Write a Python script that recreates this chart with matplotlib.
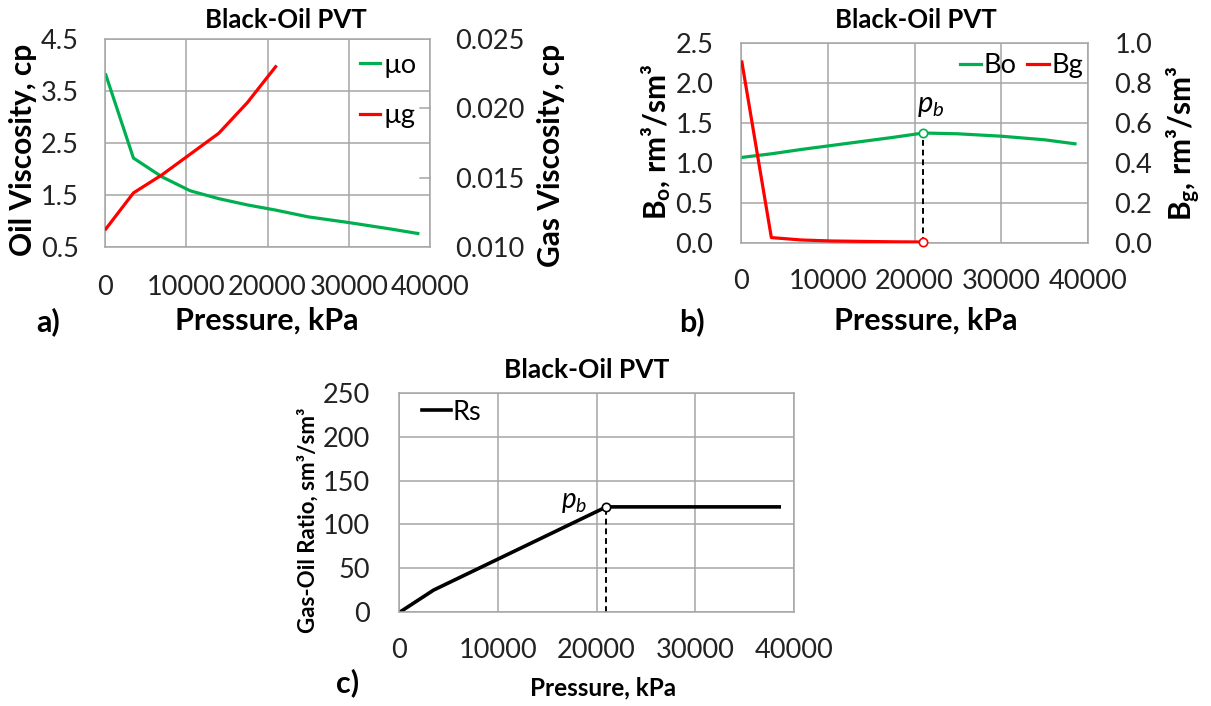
import matplotlib
matplotlib.use("Agg")
import matplotlib.pyplot as plt

plt.rcParams['font.family'] = ['Lato', 'DejaVu Sans']
plt.rcParams['mathtext.fontset'] = 'custom'
plt.rcParams['mathtext.rm'] = 'Lato'
plt.rcParams['mathtext.it'] = 'Lato:italic'
plt.rcParams['mathtext.bf'] = 'Lato:bold'

# data
pressure = [101, 3500, 7000, 10500, 14000, 17500, 21000, 25000, 30000, 35000, 38500]
p_sat = pressure[:7]            # up to bubble point
p_b = 21000

mu_o = [3.81, 2.21, 1.85, 1.58, 1.43, 1.31, 1.21, 1.08, 0.97, 0.85, 0.76]
mu_g = [0.0113, 0.0139, 0.0152, 0.0167, 0.0182, 0.0204, 0.0230]
bo = [1.07, 1.115, 1.17, 1.22, 1.27, 1.32, 1.375, 1.365, 1.335, 1.29, 1.24]
bg = [0.905, 0.027, 0.015, 0.010, 0.008, 0.006, 0.005]
rs = [0, 25, 44, 63, 82, 101, 120, 120, 120, 120, 120]

x_ticks = [0, 10000, 20000, 30000, 40000]

GREEN = '#00B050'
RED = '#FF0000'
GRID = '#A6A6A6'
TS = 19.5   # tick / legend font size

W, H = 1211, 706
fig = plt.figure(figsize=(W / 100, H / 100), dpi=100)


def box(left, top, right, bottom):
    return [left / W, 1 - bottom / H, (right - left) / W, (bottom - top) / H]


def ftext(x, y, s, **kw):
    fig.text(x / W, 1 - y / H, s, ha='center', va='center', **kw)


def style(ax, xpad=20, ypad=20):
    ax.grid(True, color=GRID, linewidth=1.1)
    ax.set_axisbelow(True)
    for sp in ax.spines.values():
        sp.set_color(GRID)
        sp.set_linewidth(1.1)
    ax.tick_params(axis='x', length=0, labelsize=TS, pad=xpad, colors='#222222')
    ax.tick_params(axis='y', length=0, labelsize=TS, pad=ypad, colors='#222222')
    ax.set_xlim(0, 40000)
    ax.set_xticks(x_ticks)


def style_right(tw, pad=19):
    for sp in tw.spines.values():
        sp.set_visible(False)
    tw.tick_params(axis='y', length=0, labelsize=TS, pad=pad, colors='#222222')


# ---- a) viscosities
ax1 = fig.add_axes(box(105, 39, 430, 247))
style(ax1, xpad=20, ypad=19)
ax1.set_ylim(0.5, 4.5)
ax1.set_yticks([0.5, 1.5, 2.5, 3.5, 4.5])
ax1.yaxis.set_major_formatter(matplotlib.ticker.FormatStrFormatter('%.1f'))
l1, = ax1.plot(pressure, mu_o, color=GREEN, lw=2.3)
tw1 = ax1.twinx()
l2, = tw1.plot(p_sat, mu_g, color=RED, lw=2.3)
tw1.set_ylim(0.010, 0.025)
tw1.set_yticks([0.010, 0.015, 0.020, 0.025])
tw1.yaxis.set_major_formatter(matplotlib.ticker.FormatStrFormatter('%.3f'))
style_right(tw1, pad=18)
for yv in [0.015, 0.020]:
    tw1.plot([38800, 40000], [yv, yv], color=GRID, lw=1.1, clip_on=False)
ax1.legend([l1, l2], ['µo', 'µg'], loc='upper left', bbox_to_anchor=(0.785, 0.935),
           frameon=False, fontsize=TS, borderpad=0, borderaxespad=0,
           handlelength=0.75, handletextpad=0.12, labelspacing=0.95)

ftext(286, 20, 'Black-Oil PVT', fontsize=18.5, fontweight='bold')
ftext(23, 150, 'Oil Viscosity, cp', fontsize=21.5, fontweight='bold', rotation=90)
ftext(551, 155, 'Gas Viscosity, cp', fontsize=21.5, fontweight='bold', rotation=90)
ftext(267, 321, 'Pressure, kPa', fontsize=22, fontweight='bold')
ftext(48, 322, 'a)', fontsize=22, fontweight='bold')

# ---- b) formation volume factors
ax2 = fig.add_axes(box(741, 43, 1088, 243))
style(ax2, xpad=18.5, ypad=20)
ax2.set_ylim(0, 2.5)
ax2.set_yticks([0, 0.5, 1.0, 1.5, 2.0, 2.5])
ax2.yaxis.set_major_formatter(matplotlib.ticker.FormatStrFormatter('%.1f'))
l3, = ax2.plot(pressure, bo, color=GREEN, lw=2.3)
ax2.plot([p_b, p_b], [0, bo[6]], color='black', lw=1.4, ls=(0, (3, 2)))
ax2.plot([p_b], [bo[6]], 'o', ms=6, mfc='white', mec=GREEN, mew=1.2, zorder=5)
tw2 = ax2.twinx()
l4, = tw2.plot(p_sat, bg, color=RED, lw=2.3)
tw2.plot([p_b], [bg[6]], 'o', ms=6, mfc='white', mec=RED, mew=1.2, zorder=5, clip_on=False)
tw2.set_ylim(0, 1.0)
tw2.set_yticks([0, 0.2, 0.4, 0.6, 0.8, 1.0])
tw2.yaxis.set_major_formatter(matplotlib.ticker.FormatStrFormatter('%.1f'))
style_right(tw2, pad=19)
ax2.text(21900, 1.71, '$p_b$', fontsize=21, ha='center', va='center')
ax2.legend([l3, l4], ['Bo', 'Bg'], loc='upper left', bbox_to_anchor=(0.63, 0.95),
           ncol=2, frameon=False, fontsize=TS, borderpad=0, borderaxespad=0,
           handlelength=0.8, handletextpad=0.08, columnspacing=0.4)

ftext(916, 20, 'Black-Oil PVT', fontsize=18.5, fontweight='bold')
ftext(656, 142, r'B$_\mathbf{o}$, rm³/sm³', fontsize=21.5, fontweight='bold', rotation=90)
ftext(1184, 143, r'B$_\mathbf{g}$, rm³/sm³', fontsize=21.5, fontweight='bold', rotation=90)
ftext(926, 321, 'Pressure, kPa', fontsize=22, fontweight='bold')
ftext(692, 322, 'b)', fontsize=22, fontweight='bold')

# ---- c) solution gas-oil ratio
ax3 = fig.add_axes(box(399, 393, 794, 612))
style(ax3, xpad=19, ypad=21)
ax3.set_ylim(0, 250)
ax3.set_yticks([0, 50, 100, 150, 200, 250])
l5, = ax3.plot(pressure, rs, color='black', lw=2.6)
ax3.plot([p_b, p_b], [0, rs[6]], color='black', lw=1.4, ls=(0, (3, 2)))
ax3.plot([p_b], [rs[6]], 'o', ms=6, mfc='white', mec='black', mew=1.2, zorder=5)
ax3.text(19100, 126, '$p_b$', fontsize=20, ha='right', va='center')
ax3.legend([l5], ['Rs'], loc='upper left', bbox_to_anchor=(0.057, 0.97),
           frameon=False, fontsize=TS, borderpad=0, borderaxespad=0,
           handlelength=1.1, handletextpad=0.05)

ftext(587, 370, 'Black-Oil PVT', fontsize=19, fontweight='bold')
ftext(308, 520, 'Gas-Oil Ratio, sm³/sm³', fontsize=16, fontweight='bold', rotation=90)
ftext(603, 688, 'Pressure, kPa', fontsize=17.5, fontweight='bold')
ftext(348, 683, 'c)', fontsize=22, fontweight='bold')

fig.savefig('out.png', dpi=100, facecolor='white')
